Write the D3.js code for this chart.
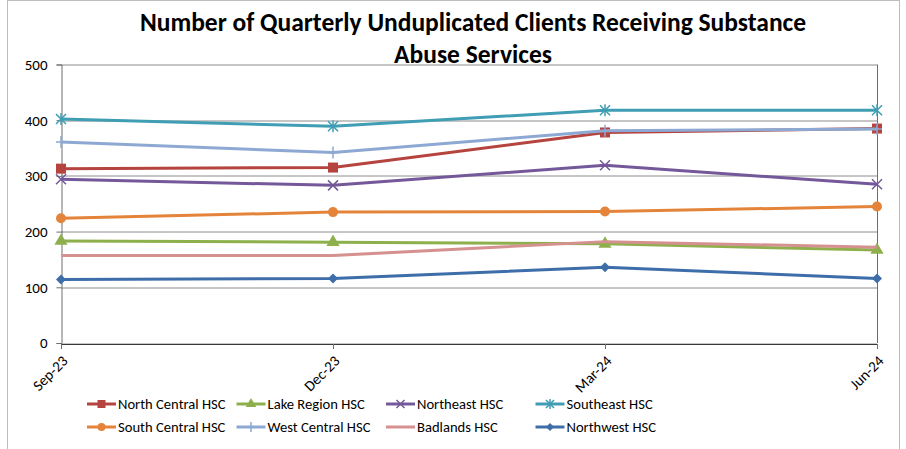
<!DOCTYPE html>
<html>
<head>
<meta charset="utf-8">
<script src="https://cdn.jsdelivr.net/npm/d3@7"></script>
<style>
  body { margin: 0; background: #fff; }
  svg { font-family: Carlito, Calibri, "Liberation Sans", sans-serif; }
</style>
</head>
<body>
<div id="chart"></div>
<script>
// quarters on the x axis
var quarters = ["Sep-23", "Dec-23", "Mar-24", "Jun-24"];
var yTicks = [0, 100, 200, 300, 400, 500];

// one array per region
var northCentral = [313, 315, 378, 385];
var lakeRegion   = [183, 181, 178, 167];
var northeast    = [294, 283, 319, 285];
var southeast    = [402, 389, 418, 418];
var southCentral = [224, 235, 236, 245];
var westCentral  = [361, 342, 381, 384];
var badlands     = [157, 157, 182, 172];
var northwest    = [114, 116, 136, 116];

var seriesNames = ["North Central HSC", "Lake Region HSC", "Northeast HSC", "Southeast HSC",
                   "South Central HSC", "West Central HSC", "Badlands HSC", "Northwest HSC"];
var seriesValues = [northCentral, lakeRegion, northeast, southeast,
                    southCentral, westCentral, badlands, northwest];
var seriesColors = ["#B5443F", "#8DB04C", "#74589A", "#3F9DB4",
                    "#E4843A", "#8DA9D3", "#D5918F", "#3E6EAA"];
var seriesMarkers = ["square", "triangle", "x", "star", "circle", "plus", "none", "diamond"];

var width = 906, height = 449;
var margin = { top: 64.5, right: 29, bottom: 106, left: 61 };
var plotW = width - margin.left - margin.right;
var plotH = height - margin.top - margin.bottom;
var fontStack = "Carlito, Calibri, 'Liberation Sans', sans-serif";

var svg = d3.select("#chart").append("svg")
  .attr("width", width)
  .attr("height", height);

// chart outer border
svg.append("rect")
  .attr("x", 7.5).attr("y", 0.5)
  .attr("width", 892).attr("height", 460)
  .attr("fill", "none")
  .attr("stroke", "#bdbdbd");

var x = d3.scalePoint().domain(quarters).range([0, plotW]);
var y = d3.scaleLinear().domain([0, 500]).range([plotH, 0]);

var g = svg.append("g")
  .attr("transform", "translate(" + margin.left + "," + margin.top + ")");

// gridlines
g.selectAll("line.grid")
  .data(yTicks)
  .enter().append("line")
  .attr("class", "grid")
  .attr("x1", 0).attr("x2", plotW)
  .attr("y1", function(d) { return Math.round(y(d)) + 0.5; })
  .attr("y2", function(d) { return Math.round(y(d)) + 0.5; })
  .attr("stroke", "#8c8c8c")
  .attr("stroke-width", 1);

// right border of plot
g.append("line")
  .attr("x1", plotW + 0.5).attr("x2", plotW + 0.5)
  .attr("y1", y(500)).attr("y2", y(0))
  .attr("stroke", "#6e6e6e");

var yAxis = d3.axisLeft(y).tickValues(yTicks).tickSize(5).tickPadding(9);
var yG = g.append("g").attr("transform", "translate(0.5,0)").call(yAxis);
yG.select(".domain").attr("stroke", "#6e6e6e");
yG.selectAll(".tick line").attr("stroke", "#6e6e6e");
yG.selectAll("text").attr("font-size", 15).attr("fill", "#000")
  .style("font-family", fontStack);

var xAxis = d3.axisBottom(x).tickSize(5).tickSizeOuter(0);
var xG = g.append("g").attr("transform", "translate(0," + (Math.round(plotH) + 0.5) + ")").call(xAxis);
xG.select(".domain").attr("stroke", "#3a3a3a");
xG.selectAll(".tick line").attr("stroke", "#6e6e6e");
xG.selectAll("text")
  .attr("font-size", 15).attr("fill", "#000")
  .style("font-family", fontStack)
  .style("text-anchor", "end")
  .attr("dx", "0.2em").attr("dy", "0.6em")
  .attr("transform", "translate(-7,8) rotate(-45)");

// marker drawing
function drawMarker(sel, type, color, s) {
  if (type === "square") {
    sel.append("rect").attr("x", -s).attr("y", -s).attr("width", 2 * s).attr("height", 2 * s).attr("fill", color);
  } else if (type === "triangle") {
    sel.append("path").attr("d", d3.symbol(d3.symbolTriangle, s * s * 3)).attr("fill", color);
  } else if (type === "circle") {
    sel.append("circle").attr("r", s).attr("fill", color);
  } else if (type === "diamond") {
    sel.append("path").attr("d", "M0," + (-s) + "L" + s + ",0L0," + s + "L" + (-s) + ",0Z").attr("fill", color);
  } else if (type === "x" || type === "star") {
    sel.append("path").attr("d", "M" + (-s) + "," + (-s) + "L" + s + "," + s + "M" + s + "," + (-s) + "L" + (-s) + "," + s)
      .attr("stroke", color).attr("stroke-width", 1.5).attr("fill", "none");
    if (type === "star") {
      sel.append("path").attr("d", "M0," + (-s - 1) + "L0," + (s + 1))
        .attr("stroke", color).attr("stroke-width", 1.5);
    }
  } else if (type === "plus") {
    sel.append("path").attr("d", "M0," + (-s - 1) + "L0," + (s + 1) + "M" + (-s) + ",0L" + s + ",0")
      .attr("stroke", color).attr("stroke-width", 1.5);
  }
}

var line = d3.line()
  .x(function(d, i) { return x(quarters[i]); })
  .y(function(d) { return y(d); });

seriesNames.forEach(function(name, k) {
  var sg = g.append("g");
  sg.append("path")
    .datum(seriesValues[k])
    .attr("d", line)
    .attr("fill", "none")
    .attr("stroke", seriesColors[k])
    .attr("stroke-width", 3)
    .attr("stroke-linejoin", "round");
  sg.selectAll("g.mk")
    .data(seriesValues[k])
    .enter().append("g")
    .attr("transform", function(d, i) { return "translate(" + x(quarters[i]) + "," + y(d) + ")"; })
    .each(function() { drawMarker(d3.select(this), seriesMarkers[k], seriesColors[k], 5); });
});

// title
var title = svg.append("text")
  .attr("text-anchor", "middle")
  .attr("font-size", 25.5)
  .attr("font-weight", "bold")
  .attr("fill", "#000");
title.append("tspan").attr("x", 473).attr("y", 31).text("Number of Quarterly Unduplicated Clients Receiving Substance");
title.append("tspan").attr("x", 473).attr("y", 63).text("Abuse Services");

// legend
var legend = svg.append("g");
seriesNames.forEach(function(name, k) {
  var col = k % 4, row = Math.floor(k / 4);
  var lx = 87 + col * 149.5, ly = 404 + row * 23;
  var lg = legend.append("g").attr("transform", "translate(" + lx + "," + ly + ")");
  lg.append("line").attr("x1", 0).attr("x2", 29).attr("y1", 0).attr("y2", 0)
    .attr("stroke", seriesColors[k]).attr("stroke-width", 3);
  var mk = lg.append("g").attr("transform", "translate(14.5,0)");
  drawMarker(mk, seriesMarkers[k], seriesColors[k], 4);
  lg.append("text").attr("x", 31).attr("y", 0).attr("dy", "0.35em")
    .attr("font-size", 14.6).attr("fill", "#000").text(name);
});
</script>
</body>
</html>
